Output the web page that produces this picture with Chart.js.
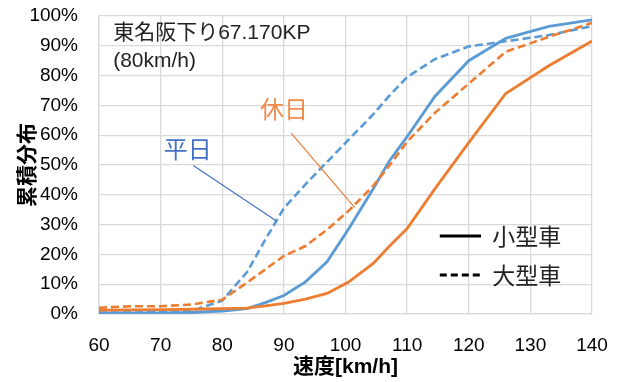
<!DOCTYPE html>
<html>
<head>
<meta charset="utf-8">
<script src="https://cdn.jsdelivr.net/npm/chart.js@4"></script>
<style>
  html, body { margin: 0; padding: 0; background: #fff; }
  #wrap { width: 626px; height: 382px; }
</style>
</head>
<body>
<div id="wrap"><canvas id="cdf-chart"></canvas></div>
<script>
// speed [km/h] and cumulative share [%]
const speeds = [60, 65, 70, 75, 80, 84, 87, 90, 93.5, 97, 100.5, 104.5, 107, 110, 114.5, 120, 126, 133, 140];
const weekdaySmall = [0.4, 0.4, 0.4, 0.5, 1.0, 1.8, 3.8, 6.2, 10.8, 17.5, 28.5, 42, 51, 59.5, 73, 85, 92.5, 96.5, 98.7];
const weekdayLarge = [0.5, 0.5, 0.6, 1.0, 4.5, 14, 25, 35.5, 43.5, 51, 58.5, 67, 73, 79.5, 85.5, 89.8, 91.5, 93.6, 96.6];
const holidaySmall = [1.3, 1.4, 1.5, 1.6, 1.8, 2.0, 2.7, 3.6, 5.0, 6.9, 10.7, 17, 22.5, 28.7, 42, 57.5, 74, 83.3, 91.6];
const holidayLarge = [2.1, 2.6, 2.6, 3.2, 4.8, 10.5, 15, 19.5, 22.8, 28.3, 34.6, 43, 49.5, 57.8, 67.5, 77.3, 88, 93, 97.7];
const yTicks = [0, 10, 20, 30, 40, 50, 60, 70, 80, 90, 100];

const BLUE = '#5B9BD5';
const ORANGE = '#ED7D31';
const LATIN = "'Liberation Sans', 'Noto Sans CJK JP', sans-serif";
const CJK = "'Noto Sans CJK JP', sans-serif";

const pts = (vals) => speeds.map((s, i) => ({ x: s, y: vals[i] }));

function line(label, vals, color, dashed) {
    return {
        label,
        data: pts(vals),
        borderColor: color,
        backgroundColor: color,
        borderWidth: dashed ? 2.6 : 2.8,
        borderDash: dashed ? [8, 4] : [],
        pointRadius: 0,
        tension: 0,
        fill: false,
    };
}

// callouts and key, placed in data units
const notes = {
    id: 'notes',
    afterDatasetsDraw(chart) {
        const { ctx, scales: { x, y } } = chart;
        const px = (v) => x.getPixelForValue(v);
        const py = (v) => y.getPixelForValue(v);
        ctx.save();
        ctx.textBaseline = 'middle';

        ctx.fillStyle = '#222';
        ctx.font = '21px ' + LATIN;
        ctx.textAlign = 'left';
        ctx.fillText('東名阪下り67.170KP', px(62.3), py(94.3));
        ctx.fillText('(80km/h)', px(62.3), py(84.8));

        ctx.lineWidth = 1.2;
        ctx.strokeStyle = '#4472C4';
        ctx.beginPath();
        ctx.moveTo(px(75.3), py(49.8));
        ctx.lineTo(px(88.8), py(31.2));
        ctx.stroke();
        ctx.strokeStyle = ORANGE;
        ctx.beginPath();
        ctx.moveTo(px(91.2), py(60.6));
        ctx.lineTo(px(101.5), py(35.7));
        ctx.stroke();

        ctx.font = '24px ' + CJK;
        ctx.textAlign = 'center';
        ctx.fillStyle = '#4472C4';
        ctx.fillText('平日', px(74.4), py(55.5));
        ctx.fillStyle = '#F08A4B';
        ctx.fillText('休日', px(90), py(69));

        // key
        ctx.strokeStyle = '#000';
        ctx.lineWidth = 3;
        ctx.beginPath();
        ctx.moveTo(px(115.3), py(26.2));
        ctx.lineTo(px(122), py(26.2));
        ctx.stroke();
        ctx.setLineDash([7, 4]);
        ctx.beginPath();
        ctx.moveTo(px(115.3), py(13.1));
        ctx.lineTo(px(121.8), py(13.1));
        ctx.stroke();
        ctx.setLineDash([]);

        ctx.fillStyle = '#222';
        ctx.font = '23px ' + CJK;
        ctx.textAlign = 'left';
        ctx.fillText('小型車', px(123.8), py(26));
        ctx.fillText('大型車', px(123.8), py(13));
        ctx.restore();
    }
};

new Chart(document.getElementById('cdf-chart'), {
    type: 'line',
    data: {
        datasets: [
            line('休日 小型車', holidaySmall, ORANGE, false),
            line('休日 大型車', holidayLarge, ORANGE, true),
            line('平日 小型車', weekdaySmall, BLUE, false),
            line('平日 大型車', weekdayLarge, BLUE, true),
        ]
    },
    options: {
        responsive: true,
        maintainAspectRatio: false,
        animation: false,
        layout: { padding: { top: 16, right: 34, left: 0, bottom: 0 } },
        plugins: { legend: { display: false }, tooltip: { enabled: false } },
        scales: {
            x: {
                type: 'linear',
                min: 60,
                max: 140,
                ticks: { stepSize: 10, padding: 20, color: '#000', font: { family: LATIN, size: 19 } },
                grid: { color: '#d9d9d9', lineWidth: 1.3, drawTicks: false },
                border: { color: '#d9d9d9', width: 1.3 },
                title: { display: true, text: '速度[km/h]', color: '#000', padding: { top: 0, bottom: 2 },
                         font: { family: LATIN, size: 21, weight: 'bold' } },
                afterFit(scale) {
                    scale.height = 68;
                    scale.paddingLeft = 0;
                    scale.paddingRight = 0;
                }
            },
            y: {
                min: 0,
                max: 100,
                afterBuildTicks(scale) { scale.ticks = yTicks.map(v => ({ value: v })); },
                ticks: { padding: 21, color: '#000', font: { family: LATIN, size: 19 },
                         callback: (v) => v + '%' },
                grid: { color: '#d9d9d9', lineWidth: 1.3, drawTicks: false },
                border: { color: '#d9d9d9', width: 1.3 },
                title: { display: true, text: '累積分布', color: '#000', padding: { top: 13, bottom: 0 },
                         font: { family: CJK, size: 21, weight: 'bold' } },
                afterFit(scale) {
                    scale.width = 99;
                    scale.paddingTop = 0;
                    scale.paddingBottom = 0;
                }
            }
        }
    },
    plugins: [notes]
});
</script>
</body>
</html>
